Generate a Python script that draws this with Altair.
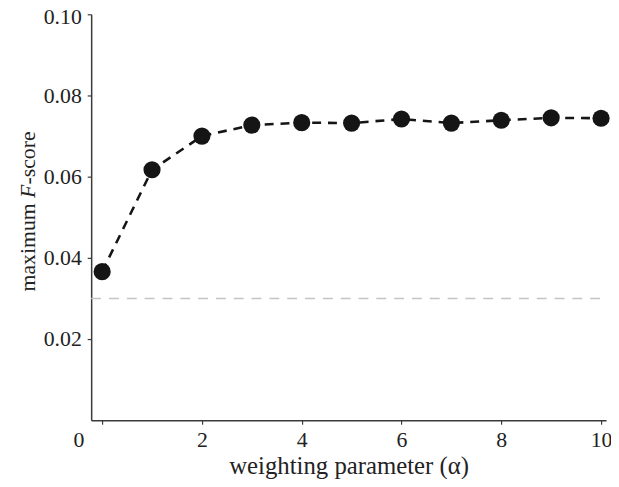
import altair as alt
import pandas as pd

alpha = [0, 1, 2, 3, 4, 5, 6, 7, 8, 9, 10]
fscore = [0.0366, 0.0617, 0.0700, 0.0727, 0.0733, 0.0732, 0.0742, 0.0732, 0.0739, 0.0745, 0.0744]
baseline = 0.0300
x_domain = [-0.22, 10.1]
x_ticks = [0, 2, 4, 6, 8, 10]
y_ticks = [0.02, 0.04, 0.06, 0.08, 0.10]

df = pd.concat([
    pd.DataFrame({"alpha": alpha, "fscore": fscore, "series": "a_main"}),
    pd.DataFrame({"alpha": x_domain, "fscore": [baseline, baseline], "series": "b_base"}),
], ignore_index=True)

FONT = "Liberation Serif"
AX = "#3a3a3a"

xscale = alt.Scale(domain=x_domain, nice=False, zero=False)
yscale = alt.Scale(domain=[0, 0.1], nice=False)

xaxis = alt.Axis(
    values=x_ticks, title="weighting parameter (α)", grid=False,
    tickSize=4, tickColor=AX, tickWidth=1.2,
    domainColor=AX, domainWidth=1.5, labelFont=FONT, labelFontSize=22,
    labelColor="#222", labelPadding=6, titleFont=FONT, titleFontSize=25,
    titleFontWeight="normal", titleColor="#222", titlePadding=3,
    labelOffset={"condition": {"test": "datum.value === 0", "value": -24}, "value": 0},
    labelFlush=False,
)
yaxis = alt.Axis(
    values=y_ticks, format=".2f", title=None, grid=False,
    tickSize=4, tickColor=AX, tickWidth=1.2,
    domainColor=AX, domainWidth=1.5, labelFont=FONT, labelFontSize=22,
    labelColor="#222", labelPadding=6, labelFlush=False,
    labelOffset={"condition": {"test": "datum.value > 0.095", "value": 2}, "value": 0},
)

series_dom = ["b_base", "a_main"]
main = alt.Chart(df).mark_line(
    point=alt.OverlayMarkDef(filled=True, shape="circle", size=300, opacity=1)
).encode(
    x=alt.X("alpha:Q", scale=xscale, axis=xaxis),
    y=alt.Y("fscore:Q", scale=yscale, axis=yaxis),
    color=alt.Color("series:N", scale=alt.Scale(domain=series_dom, range=["#c4c4c4", "#151515"]), legend=None),
    strokeDash=alt.StrokeDash("series:N", scale=alt.Scale(domain=series_dom, range=[[10, 8], [9, 7]]), legend=None),
    strokeWidth=alt.StrokeWidth("series:N", scale=alt.Scale(domain=series_dom, range=[1.6, 2.6]), legend=None),
    fillOpacity=alt.FillOpacity("series:N", scale=alt.Scale(domain=series_dom, range=[0, 1]), legend=None),
    order=alt.Order("alpha:Q"),
)

t1 = alt.Chart(pd.DataFrame({"t": ["maximum "]})).mark_text(
    font=FONT, fontSize=22, angle=270, align="left", baseline="alphabetic", color="#222"
).encode(text="t:N", x=alt.value(-57), y=alt.value(280))
t2 = alt.Chart(pd.DataFrame({"t": ["F"]})).mark_text(
    font=FONT, fontSize=22, fontStyle="italic", angle=270, align="left",
    baseline="alphabetic", color="#222"
).encode(text="t:N", x=alt.value(-57), y=alt.value(185.5))
t3 = alt.Chart(pd.DataFrame({"t": ["-score"]})).mark_text(
    font=FONT, fontSize=22, angle=270, align="left", baseline="alphabetic", color="#222"
).encode(text="t:N", x=alt.value(-57), y=alt.value(172))

chart = alt.layer(main, t1, t2, t3).properties(
    width=520, height=410,
    background="white",
    autosize=alt.AutoSizeParams(type="none"),
    padding={"left": 84, "top": 4, "right": 5, "bottom": 57},
).configure_view(stroke="transparent", strokeWidth=0)

chart.save("out.html", embed_options={"renderer": "svg", "actions": False})
